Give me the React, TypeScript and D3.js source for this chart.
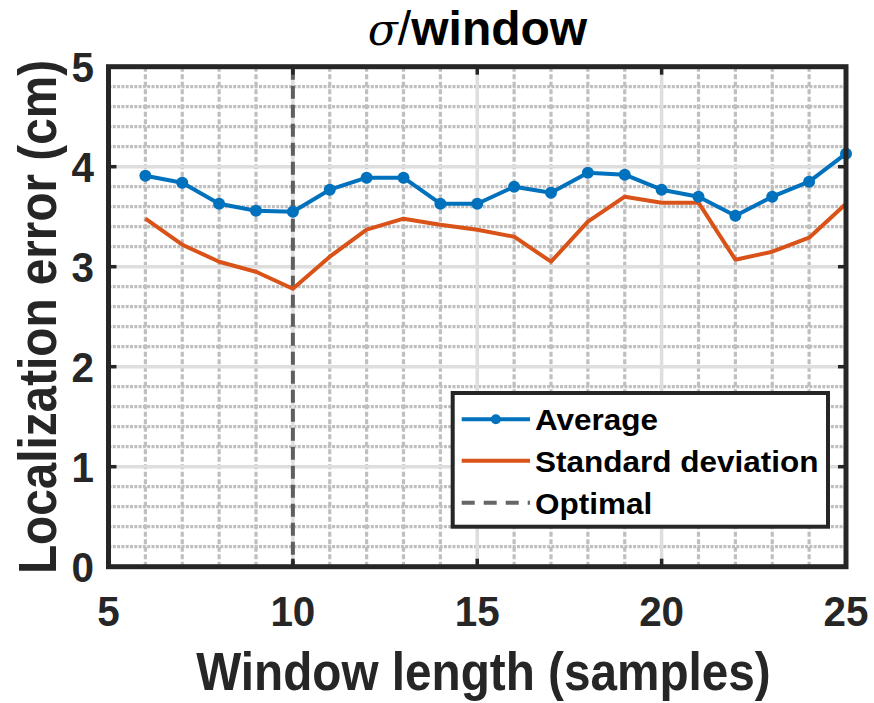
import React from "react";
import * as d3 from "d3";

// Window length in samples
const windowLengths = [6, 7, 8, 9, 10, 11, 12, 13, 14, 15, 16, 17, 18, 19, 20, 21, 22, 23, 24, 25];
// Mean localization error (cm)
const averageError = [3.91, 3.84, 3.63, 3.56, 3.55, 3.77, 3.89, 3.89, 3.63, 3.63, 3.8, 3.74, 3.94, 3.92, 3.77, 3.7, 3.51, 3.7, 3.85, 4.13];
// Standard deviation of the localization error (cm)
const stdError = [3.48, 3.22, 3.05, 2.95, 2.78, 3.1, 3.37, 3.48, 3.42, 3.37, 3.3, 3.05, 3.45, 3.7, 3.64, 3.64, 3.07, 3.15, 3.29, 3.63];
const optimalWindow = 10;

const xTicks = [5, 10, 15, 20, 25];
const yTicks = [0, 1, 2, 3, 4, 5];
const legendLabels = ["Average", "Standard deviation", "Optimal"];

const W = 874;
const H = 703;
const left = 108.5;
const right = 846;
const top = 66.7;
const bottom = 566.7;

const BLUE = "#0072BD";
const ORANGE = "#D95319";
const INK = "#262626";
const FONT = "'Liberation Sans', Arial, Helvetica, sans-serif";

export default function App() {
  const x = d3.scaleLinear().domain([5, 25]).range([left, right]);
  const y = d3.scaleLinear().domain([0, 5]).range([bottom, top]);

  const xMinor = d3.range(5, 25.001, 1).filter((v) => v % 5 !== 0);
  const yMinor = d3.range(0, 5.001, 0.2).map((v) => Math.round(v * 10) / 10).filter((v) => Math.abs(v - Math.round(v)) > 1e-6);

  const line = d3
    .line<number>()
    .x((_, i) => x(windowLengths[i]))
    .y((d) => y(d));

  const tickLen = 8;

  // legend geometry
  const lg = { x0: 452.7, y0: 393, x1: 828, y1: 526.7 };
  const rowY = [419.3, 460.7, 502.7];
  const sampleX0 = 461.7;
  const sampleX1 = 530;
  const textX = 535;

  return (
    <div style={{ position: "absolute", left: 0, top: 0 }}>
      <svg width={W} height={H} viewBox={`0 0 ${W} ${H}`} style={{ display: "block", background: "#fff" }}>
        <rect x={0} y={0} width={W} height={H} fill="#fff" />

        {/* minor grid */}
        <g stroke="#bfbfbf" strokeWidth={3.2} fill="none">
          {xMinor.map((v) => (
            <line key={"xm" + v} x1={x(v)} x2={x(v)} y1={top} y2={bottom} strokeDasharray="5,2.5" />
          ))}
          {yMinor.map((v) => (
            <line key={"ym" + v} x1={left} x2={right} y1={y(v)} y2={y(v)} strokeDasharray="3,1.3" />
          ))}
        </g>

        {/* major grid */}
        <g stroke="#dedede" strokeWidth={3.5}>
          {xTicks.map((v) => (
            <line key={"xg" + v} x1={x(v)} x2={x(v)} y1={top} y2={bottom} />
          ))}
          {yTicks.map((v) => (
            <line key={"yg" + v} x1={left} x2={right} y1={y(v)} y2={y(v)} />
          ))}
        </g>

        {/* optimal window marker */}
        <line
          x1={x(optimalWindow)}
          x2={x(optimalWindow)}
          y1={top}
          y2={bottom}
          stroke="#5f5f5f"
          strokeWidth={4}
          strokeDasharray="13,6"
        />

        {/* standard deviation */}
        <path d={line(stdError) ?? ""} fill="none" stroke={ORANGE} strokeWidth={4} strokeLinejoin="round" />

        {/* average */}
        <path d={line(averageError) ?? ""} fill="none" stroke={BLUE} strokeWidth={4} strokeLinejoin="round" />
        {averageError.map((v, i) => (
          <circle key={"m" + i} cx={x(windowLengths[i])} cy={y(v)} r={6} fill={BLUE} />
        ))}

        {/* axes box and inward ticks */}
        <g stroke={INK} strokeWidth={3.5}>
          {xTicks.map((v) => (
            <g key={"xt" + v}>
              <line x1={x(v)} x2={x(v)} y1={bottom} y2={bottom - tickLen} />
              <line x1={x(v)} x2={x(v)} y1={top} y2={top + tickLen} />
            </g>
          ))}
          {yTicks.map((v) => (
            <g key={"yt" + v}>
              <line x1={left} x2={left + tickLen} y1={y(v)} y2={y(v)} />
              <line x1={right} x2={right - tickLen} y1={y(v)} y2={y(v)} />
            </g>
          ))}
        </g>
        <rect x={left} y={top} width={right - left} height={bottom - top} fill="none" stroke={INK} strokeWidth={5} />

        {/* tick labels */}
        <g fill={INK} fontFamily={FONT} fontWeight="bold" fontSize={43}>
          {xTicks.map((v) => (
            <text key={"xl" + v} transform={`translate(${x(v)},626) scale(0.94,1)`} textAnchor="middle">
              {v}
            </text>
          ))}
          {yTicks.map((v) => (
            <text key={"yl" + v} transform={`translate(94,${y(v) + 15.5}) scale(0.94,1)`} textAnchor="end">
              {v}
            </text>
          ))}
        </g>

        {/* axis labels */}
        <text
          transform={`translate(483.5,690) scale(0.9,1)`}
          textAnchor="middle"
          fontFamily={FONT}
          fontWeight="bold"
          fontSize={53}
          fill={INK}
        >
          Window length (samples)
        </text>
        <text
          transform={`translate(56,317) rotate(-90) scale(0.9,1)`}
          textAnchor="middle"
          fontFamily={FONT}
          fontWeight="bold"
          fontSize={53}
          fill={INK}
        >
          Localization error (cm)
        </text>

        {/* title */}
        <text x={477.5} y={45} textAnchor="middle" fontFamily={FONT} fontSize={48} fill="#000">
          <tspan fontFamily="'DejaVu Serif', serif" fontStyle="italic" fontSize={44}>σ</tspan>
          <tspan>/</tspan>
          <tspan fontWeight="bold">window</tspan>
        </text>

        {/* legend */}
        <rect x={lg.x0} y={lg.y0} width={lg.x1 - lg.x0} height={lg.y1 - lg.y0} fill="#fff" stroke={INK} strokeWidth={4} />
        <line x1={sampleX0} x2={sampleX1} y1={rowY[0]} y2={rowY[0]} stroke={BLUE} strokeWidth={4} />
        <circle cx={(sampleX0 + sampleX1) / 2} cy={rowY[0]} r={5} fill={BLUE} />
        <line x1={sampleX0} x2={sampleX1} y1={rowY[1]} y2={rowY[1]} stroke={ORANGE} strokeWidth={4} />
        <line x1={sampleX0} x2={sampleX1} y1={rowY[2]} y2={rowY[2]} stroke="#666" strokeWidth={4} strokeDasharray="13,9" />
        <g fill="#000" fontFamily={FONT} fontWeight="bold" fontSize={30}>
          {legendLabels.map((t, i) => (
            <text key={t} transform={`translate(${textX},${rowY[i] + 11}) scale(1.05,1)`}>
              {t}
            </text>
          ))}
        </g>
      </svg>
    </div>
  );
}
